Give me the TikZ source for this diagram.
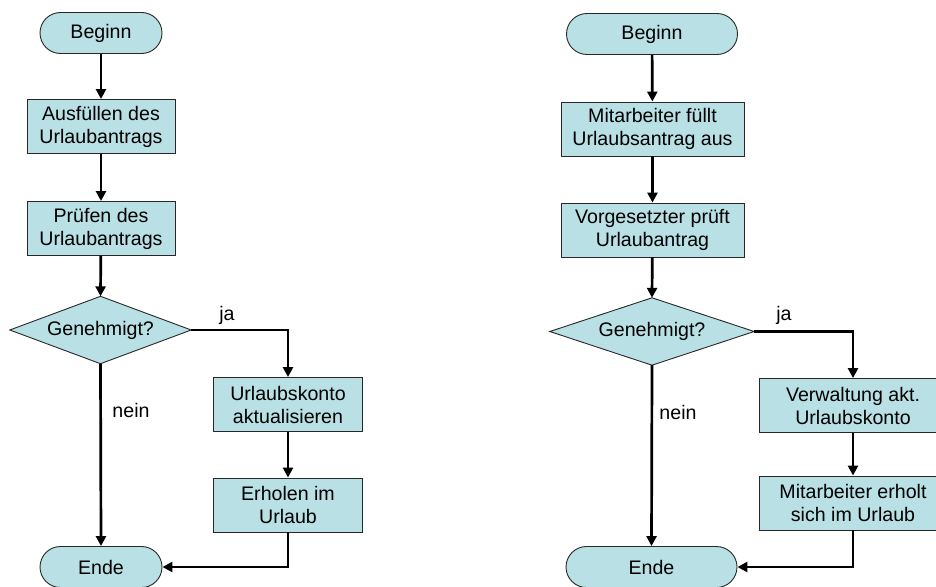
\documentclass[tikz,border=0pt]{standalone}
\usepackage{fontspec}
\setmainfont{Liberation Sans}
\usetikzlibrary{arrows.meta}
\definecolor{boxfill}{RGB}{185,224,228}
\definecolor{boxline}{RGB}{40,40,40}
\begin{document}
\begin{tikzpicture}[x=1pt,y=-1pt,
  every node/.style={font=\fontsize{19.6}{23}\selectfont, align=center, inner sep=0pt},
  terminal/.style={draw=boxline, line width=0.9pt, fill=boxfill, rounded corners=20.5pt, minimum height=41pt},
  stepbox/.style={draw=boxline, line width=0.9pt, fill=boxfill, minimum height=54pt},
  % invisible frame of a decision; its edge midpoints carry the drawn rhombus
  decframe/.style={minimum height=67pt},
  rhombus/.style={draw=boxline, line width=0.9pt, fill=boxfill},
  arr/.style={line width=2.7pt, -{Triangle[length=10pt,width=10pt]}},
  lbl/.style={font=\fontsize{19.6}{23}\selectfont}]
\useasboundingbox (0,0) rectangle (936,586);
\clip (0,0) rectangle (936,586);

% left process
\node[terminal, minimum width=122pt] (lbeg) at (101,33) {Beginn};
\node[stepbox, minimum width=148pt] (lfill) at (101,126.5) {Ausfüllen des\\Urlaubantrags};
\node[stepbox, minimum width=148pt] (lcheck) at (101,228.5) {Prüfen des\\Urlaubantrags};
\node[decframe, minimum width=181pt] (lok) at (100.5,330) {};
\draw[rhombus] (lok.north) -- (lok.east) -- (lok.south) -- (lok.west) -- cycle;
\node (loktext) at (lok.center) {Genehmigt?};
\node[stepbox, minimum width=149pt] (lacct) at (288,404.5) {Urlaubskonto\\aktualisieren};
\node[stepbox, minimum width=149pt] (lrest) at (288,505) {Erholen im\\Urlaub};
\node[terminal, minimum width=122pt] (lend) at (101,567) {Ende};
\node[lbl] (lja) at (227,315) {ja};
\node[lbl] (lnein) at (131,410) {nein};

\draw[arr] (lbeg) -- (lfill);
\draw[arr] (lfill) -- (lcheck);
\draw[arr] (lcheck) -- (lok.north);
\draw[arr] (lok.east) -| (lacct.north);
\draw[arr] (lacct) -- (lrest);
\draw[arr] (lrest.south) |- (lend.east);
\draw[arr] (lok.south) -- (lend.north);

% right process
\node[terminal, minimum width=171pt] (rbeg) at (652,34) {Beginn};
\node[stepbox, minimum width=183pt] (rfill) at (652.5,129) {Mitarbeiter füllt\\Urlaubsantrag aus};
\node[stepbox, minimum width=183pt] (rcheck) at (652.5,230) {Vorgesetzter prüft\\Urlaubantrag};
\node[decframe, minimum width=204pt] (rok) at (652,331.5) {};
\draw[rhombus] (rok.north) -- (rok.east) -- (rok.south) -- (rok.west) -- cycle;
\node (roktext) at (rok.center) {Genehmigt?};
\node[stepbox, minimum width=188pt] (racct) at (853,405.5) {Verwaltung akt.\\Urlaubskonto};
\node[stepbox, minimum width=188pt] (rrest) at (853,503) {Mitarbeiter erholt\\sich im Urlaub};
\node[terminal, minimum width=171pt] (rend) at (651.5,567) {Ende};
\node[lbl] (rja) at (784,315) {ja};
\node[lbl] (rnein) at (678,412) {nein};

\draw[arr] (rbeg) -- (rfill);
\draw[arr] (rfill) -- (rcheck);
\draw[arr] (rcheck) -- (rok.north);
\draw[arr] (rok.east) -| (racct.north);
\draw[arr] (racct) -- (rrest);
\draw[arr] (rrest.south) |- (rend.east);
\draw[arr] (rok.south) -- (rend.north);
\end{tikzpicture}
\end{document}
